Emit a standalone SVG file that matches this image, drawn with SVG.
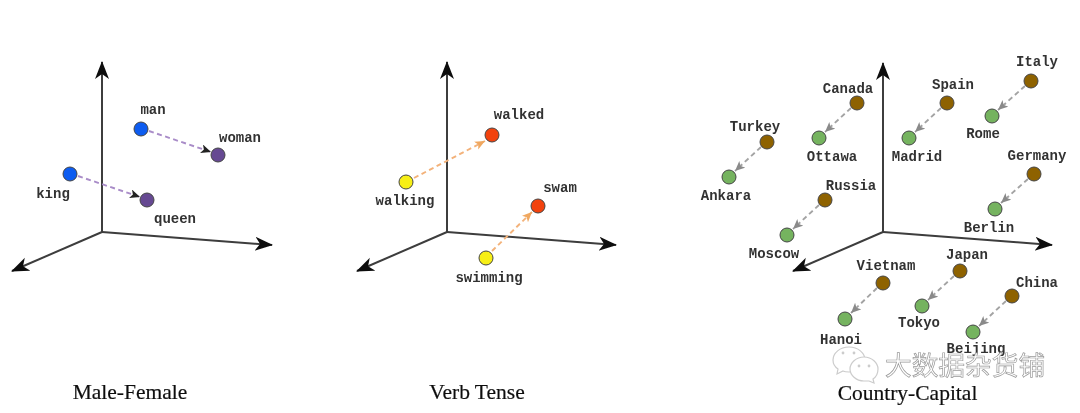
<svg xmlns="http://www.w3.org/2000/svg" width="1080" height="413" viewBox="0 0 1080 413">
<defs>
<style>
.ax{fill:none;stroke:#3c3c3c;stroke-width:2}
.lk{fill:none;stroke-width:1.9;stroke-dasharray:5 3.5}
.n{stroke:#444;stroke-width:1}
.t{font-family:"Liberation Mono",monospace;font-size:14px;font-weight:bold;fill:#333;text-anchor:middle}
.h{font-family:"Liberation Serif",serif;font-size:21.5px;fill:#111;stroke:#111;stroke-width:.2;text-anchor:middle}
.wm{font-family:"Noto Sans CJK SC",sans-serif;font-size:26.7px;fill:#fff;stroke:#999;stroke-width:.7;text-anchor:start}
.bub{fill:#fff;stroke:#ccc;stroke-width:1.2}
.dot{fill:#ccc}
.blue{fill:#0a5cf0}.pur{fill:#664a92}.yel{fill:#f7ef12}.red{fill:#f2420a}.brn{fill:#8e6206}.grn{fill:#74b35f}
</style>
<marker id="ah" markerUnits="userSpaceOnUse" markerWidth="20" markerHeight="16" refX="17" refY="7" orient="auto"><path d="M0 0L18 7L0 14L5 7Z" fill="#111"/></marker>
<marker id="ap" markerUnits="userSpaceOnUse" markerWidth="12" markerHeight="10" refX="10" refY="4.5" orient="auto"><path d="M0 0L10 4.5L0 9L2.5 4.5Z" fill="#222"/></marker>
<marker id="ao" markerUnits="userSpaceOnUse" markerWidth="12" markerHeight="10" refX="10" refY="4.5" orient="auto"><path d="M0 0L10 4.5L0 9L2.5 4.5Z" fill="#f0a860"/></marker>
<marker id="ag" markerUnits="userSpaceOnUse" markerWidth="12" markerHeight="10" refX="10" refY="4.5" orient="auto"><path d="M0 0L10 4.5L0 9L2.5 4.5Z" fill="#8a8a8a"/></marker>
<filter id="soft" x="-2%" y="-2%" width="104%" height="104%"><feGaussianBlur stdDeviation="0.45"/></filter>
</defs>
<rect width="1080" height="413" fill="#fff"/>
<g filter="url(#soft)">
<g id="connectors">
<g id="axes">
<path class="ax" marker-end="url(#ah)" d="M102 232V62"/><path class="ax" marker-end="url(#ah)" d="M102 232L272 245"/><path class="ax" marker-end="url(#ah)" d="M102 232L12 271"/>
<path class="ax" marker-end="url(#ah)" d="M447 232V62"/><path class="ax" marker-end="url(#ah)" d="M447 232L616 245"/><path class="ax" marker-end="url(#ah)" d="M447 232L357 271"/>
<path class="ax" marker-end="url(#ah)" d="M883 232V63"/><path class="ax" marker-end="url(#ah)" d="M883 232L1052 245"/><path class="ax" marker-end="url(#ah)" d="M883 232L793 271"/>
</g>
<g>
<path class="lk" stroke="#a98cc8" marker-end="url(#ap)" d="M149 131L211 152"/>
<path class="lk" stroke="#a98cc8" marker-end="url(#ap)" d="M78 176L140 197"/>
</g>
<g>
<path class="lk" stroke="#f3b27a" marker-end="url(#ao)" d="M414 178L485 141"/>
<path class="lk" stroke="#f3b27a" marker-end="url(#ao)" d="M492 251L532 212"/>
</g>
<g>
<path class="lk" stroke="#a3a3a3" marker-end="url(#ag)" d="M1025 86L998 110"/>
<path class="lk" stroke="#a3a3a3" marker-end="url(#ag)" d="M941 108L915 132"/>
<path class="lk" stroke="#a3a3a3" marker-end="url(#ag)" d="M851 108L825 132"/>
<path class="lk" stroke="#a3a3a3" marker-end="url(#ag)" d="M761 147L735 171"/>
<path class="lk" stroke="#a3a3a3" marker-end="url(#ag)" d="M819 205L793 229"/>
<path class="lk" stroke="#a3a3a3" marker-end="url(#ag)" d="M1028 179L1001 203"/>
<path class="lk" stroke="#a3a3a3" marker-end="url(#ag)" d="M877 288L851 313"/>
<path class="lk" stroke="#a3a3a3" marker-end="url(#ag)" d="M954 276L928 300"/>
<path class="lk" stroke="#a3a3a3" marker-end="url(#ag)" d="M1006 301L979 326"/>
</g>
</g>
<g id="man"><circle class="n blue" cx="141" cy="129" r="7"/><text class="t" x="153" y="114">man</text></g>
<g id="woman"><circle class="n pur" cx="218" cy="155" r="7"/><text class="t" x="240" y="142">woman</text></g>
<g id="king"><circle class="n blue" cx="70" cy="174" r="7"/><text class="t" x="53" y="198">king</text></g>
<g id="queen"><circle class="n pur" cx="147" cy="200" r="7"/><text class="t" x="175" y="223">queen</text></g>
<g id="walked"><circle class="n red" cx="492" cy="135" r="7"/><text class="t" x="519" y="119">walked</text></g>
<g id="walking"><circle class="n yel" cx="406" cy="182" r="7"/><text class="t" x="405" y="205">walking</text></g>
<g id="swam"><circle class="n red" cx="538" cy="206" r="7"/><text class="t" x="560" y="192">swam</text></g>
<g id="swimming"><circle class="n yel" cx="486" cy="258" r="7"/><text class="t" x="489" y="282">swimming</text></g>
<g id="italy"><circle class="n brn" cx="1031" cy="81" r="7"/><text class="t" x="1037" y="66">Italy</text></g>
<g id="rome"><circle class="n grn" cx="992" cy="116" r="7"/><text class="t" x="983" y="138">Rome</text></g>
<g id="spain"><circle class="n brn" cx="947" cy="103" r="7"/><text class="t" x="953" y="89">Spain</text></g>
<g id="madrid"><circle class="n grn" cx="909" cy="138" r="7"/><text class="t" x="917" y="161">Madrid</text></g>
<g id="canada"><circle class="n brn" cx="857" cy="103" r="7"/><text class="t" x="848" y="93">Canada</text></g>
<g id="ottawa"><circle class="n grn" cx="819" cy="138" r="7"/><text class="t" x="832" y="161">Ottawa</text></g>
<g id="turkey"><circle class="n brn" cx="767" cy="142" r="7"/><text class="t" x="755" y="131">Turkey</text></g>
<g id="ankara"><circle class="n grn" cx="729" cy="177" r="7"/><text class="t" x="726" y="200">Ankara</text></g>
<g id="russia"><circle class="n brn" cx="825" cy="200" r="7"/><text class="t" x="851" y="190">Russia</text></g>
<g id="moscow"><circle class="n grn" cx="787" cy="235" r="7"/><text class="t" x="774" y="258">Moscow</text></g>
<g id="germany"><circle class="n brn" cx="1034" cy="174" r="7"/><text class="t" x="1037" y="160">Germany</text></g>
<g id="berlin"><circle class="n grn" cx="995" cy="209" r="7"/><text class="t" x="989" y="232">Berlin</text></g>
<g id="vietnam"><circle class="n brn" cx="883" cy="283" r="7"/><text class="t" x="886" y="270">Vietnam</text></g>
<g id="hanoi"><circle class="n grn" cx="845" cy="319" r="7"/><text class="t" x="841" y="344">Hanoi</text></g>
<g id="japan"><circle class="n brn" cx="960" cy="271" r="7"/><text class="t" x="967" y="259">Japan</text></g>
<g id="tokyo"><circle class="n grn" cx="922" cy="306" r="7"/><text class="t" x="919" y="327">Tokyo</text></g>
<g id="china"><circle class="n brn" cx="1012" cy="296" r="7"/><text class="t" x="1037" y="287">China</text></g>
<g id="beijing"><circle class="n grn" cx="973" cy="332" r="7"/><text class="t" x="976" y="353">Beijing</text></g>
<text class="h" x="130" y="399">Male-Female</text>
<text class="h" x="477" y="399">Verb Tense</text>
<text class="h" x="907.5" y="400">Country-Capital</text>
<g id="watermark">
<path class="bub" d="M849 347c-9 0-16 6-16 13 0 4 2 7 5 9l-1 5 6-3c2 1 4 1 6 1 9 0 16-6 16-12 0-7-7-13-16-13z"/>
<path class="bub" d="M864 357c-8 0-14 6-14 12s6 12 14 12c2 0 3 0 5 0l5 2-1-4c3-2 5-6 5-10 0-6-6-12-14-12z"/>
<circle class="dot" cx="843" cy="353" r="1.4"/><circle class="dot" cx="854" cy="353" r="1.4"/><circle class="dot" cx="859" cy="366" r="1.4"/><circle class="dot" cx="869" cy="366" r="1.4"/>
<text class="wm" x="885" y="375">大数据杂货铺</text>
</g>
</g>
</svg>
